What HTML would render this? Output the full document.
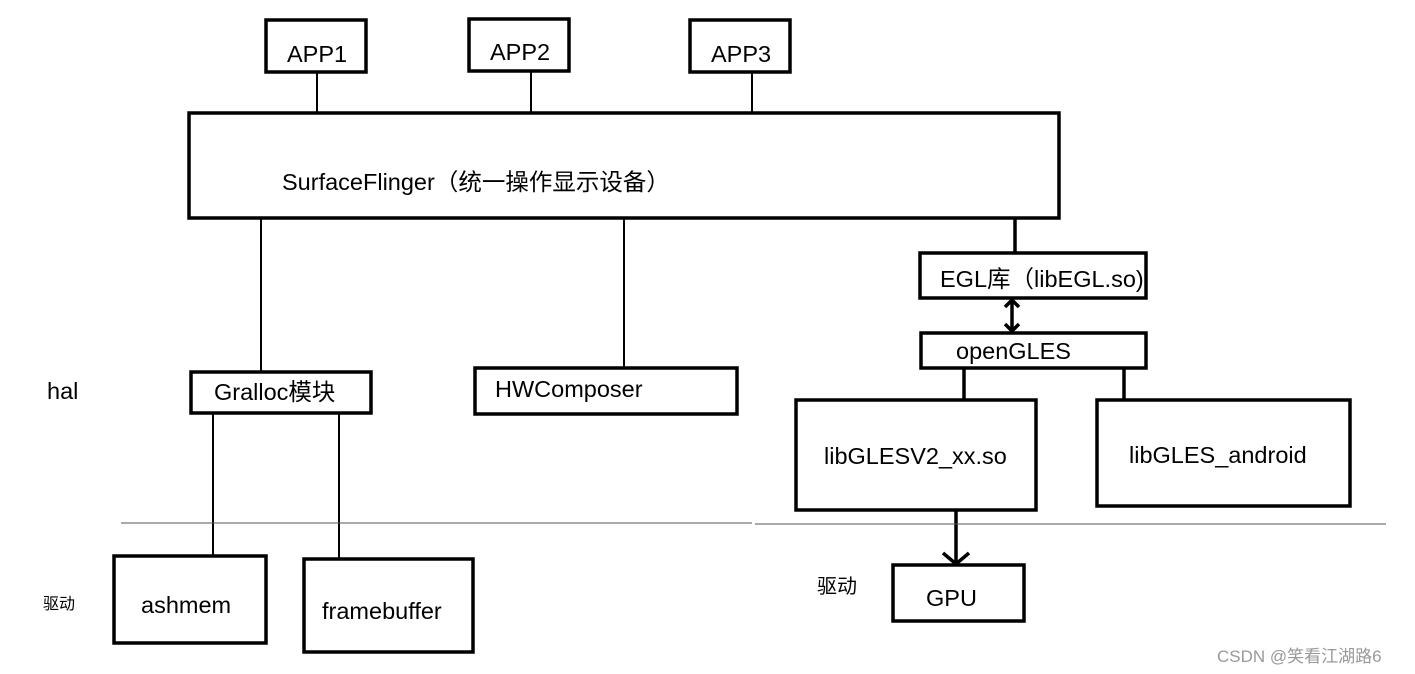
<!DOCTYPE html>
<html><head><meta charset="utf-8"><style>
html,body{margin:0;padding:0;background:#fff;}
svg{display:block;}
text{font-family:"Liberation Sans","Noto Sans CJK SC",sans-serif;fill:#000;}
</style></head><body>
<svg width="1415" height="674" viewBox="0 0 1415 674" xmlns="http://www.w3.org/2000/svg">
<g fill="none" stroke="#000" stroke-width="3.5">
<rect x="266" y="20" width="100" height="52"/>
<rect x="469" y="19" width="100" height="52"/>
<rect x="690" y="20" width="100" height="52"/>
<rect x="189" y="113" width="870" height="105"/>
<rect x="920" y="253" width="226" height="45"/>
<rect x="921" y="333" width="225" height="35"/>
<rect x="796" y="400" width="240" height="110"/>
<rect x="1097" y="400" width="253" height="106"/>
<rect x="893" y="565" width="131" height="56"/>
<rect x="191" y="372" width="180" height="41"/>
<rect x="475" y="368" width="262" height="46"/>
<rect x="114" y="556" width="152" height="87"/>
<rect x="304" y="559" width="169" height="93"/>
</g>
<g stroke="#000" stroke-width="2">
<line x1="317" y1="72" x2="317" y2="113"/>
<line x1="531" y1="71" x2="531" y2="113"/>
<line x1="752" y1="72" x2="752" y2="113"/>
<line x1="261" y1="218" x2="261" y2="372"/>
<line x1="624" y1="218" x2="624" y2="368"/>
<line x1="213" y1="413" x2="213" y2="556"/>
<line x1="339" y1="413" x2="339" y2="559"/>
</g>
<g stroke="#000" stroke-width="3.5" fill="none">
<line x1="1015" y1="218" x2="1015" y2="253"/>
<line x1="964" y1="368" x2="964" y2="400"/>
<line x1="1124" y1="368" x2="1124" y2="400"/>
<line x1="1012" y1="300" x2="1012" y2="331"/>
<polyline points="1005,307 1012,300 1019,307"/>
<polyline points="1005,324 1012,331 1019,324"/>
<line x1="956" y1="510" x2="956" y2="564"/>
<polyline points="943,553 956,564 969,553"/>
</g>
<g stroke="#555" stroke-width="1">
<line x1="121" y1="523" x2="752" y2="523"/>
<line x1="755" y1="524" x2="1386" y2="524"/>
</g>
<g font-size="23.5">
<text x="287" y="62">APP1</text>
<text x="490" y="60">APP2</text>
<text x="711" y="62">APP3</text>
<text x="282" y="190">SurfaceFlinger（统一操作显示设备）</text>
<text x="940" y="287">EGL库（libEGL.so)</text>
<text x="956" y="359">openGLES</text>
<text x="824" y="464">libGLESV2_xx.so</text>
<text x="1129" y="463">libGLES_android</text>
<text x="926" y="606">GPU</text>
<text x="214" y="400">Gralloc模块</text>
<text x="495" y="397">HWComposer</text>
<text x="141" y="613">ashmem</text>
<text x="322" y="619">framebuffer</text>
<text x="47" y="399">hal</text>
</g>
<text x="817" y="593" font-size="20">驱动</text>
<text x="43" y="609" font-size="16">驱动</text>
<text x="1217" y="662" font-size="17" style="fill:#999">CSDN @笑看江湖路6</text>
</svg>
</body></html>
